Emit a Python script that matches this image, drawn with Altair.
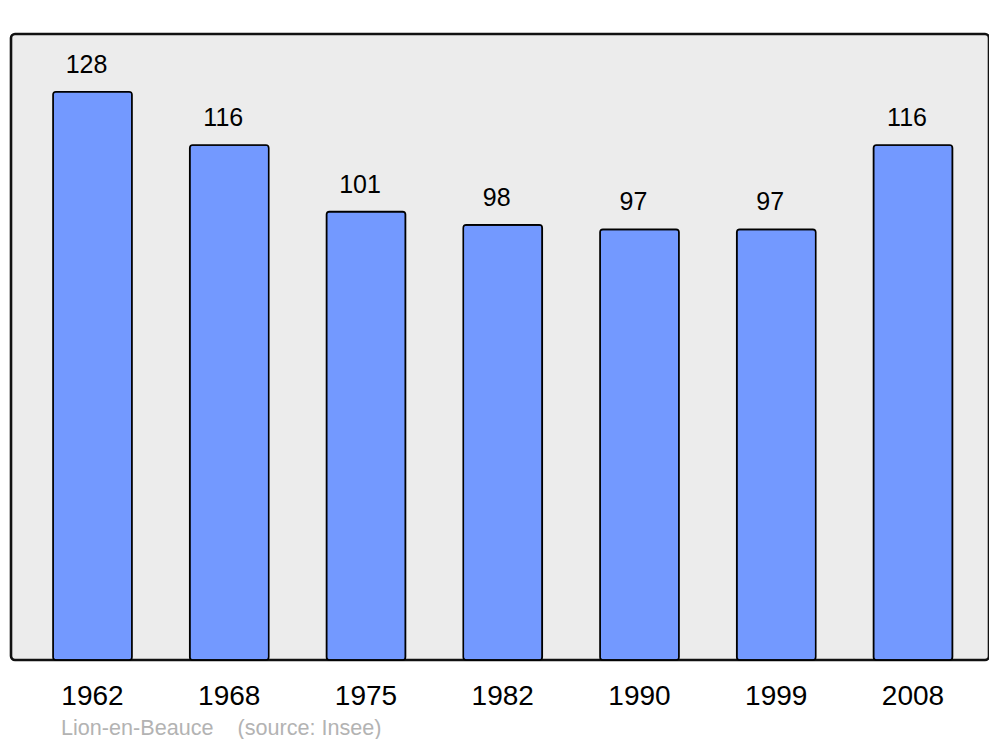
import altair as alt
import pandas as pd

years = ["1962", "1968", "1975", "1982", "1990", "1999", "2008"]
population = [128, 116, 101, 98, 97, 97, 116]
footer = "Lion-en-Beauce\u00a0\u00a0\u00a0\u00a0(source: Insee)"

df = pd.DataFrame({"year": years, "pop": population})

x = alt.X("year:N", sort=years,
          scale=alt.Scale(range=[42, 941.5], paddingInner=0.4223, paddingOuter=0),
          axis=alt.Axis(title=None, labelAngle=0, domain=False, ticks=False,
                        labelFont="Liberation Sans", labelFontSize=28, labelColor="#000",
                        labelBaseline="alphabetic", labelPadding=44))
y = alt.Y("pop:Q", scale=alt.Scale(domain=[0, 141], nice=False, zero=True), axis=None)

bars = alt.Chart(df).mark_bar(
    color="#7399ff", stroke="#000", strokeWidth=1.6, cornerRadius=3
).encode(x=x, y=y)

labels = alt.Chart(df).mark_text(
    font="Liberation Sans", fontSize=25, color="#000", baseline="alphabetic",
    dy=-19, dx=-6
).encode(x=x, y=y, text="pop:Q")

chart = alt.layer(bars, labels).properties(
    width=978, height=626,
    background="#ffffff",
    autosize=alt.AutoSizeParams(type="none"),
    padding={"left": 3, "top": 26, "right": 0, "bottom": 79},
    title=alt.TitleParams(footer, orient="bottom", anchor="start", dx=50, offset=8,
                          font="Liberation Sans", fontSize=21.6, fontWeight="normal",
                          color="#b3b3b3"),
).configure_view(
    fill="#ececec", stroke="#111", strokeWidth=2.6, cornerRadius=4
)

chart.save("out.html", embed_options={"renderer": "svg", "actions": False})
